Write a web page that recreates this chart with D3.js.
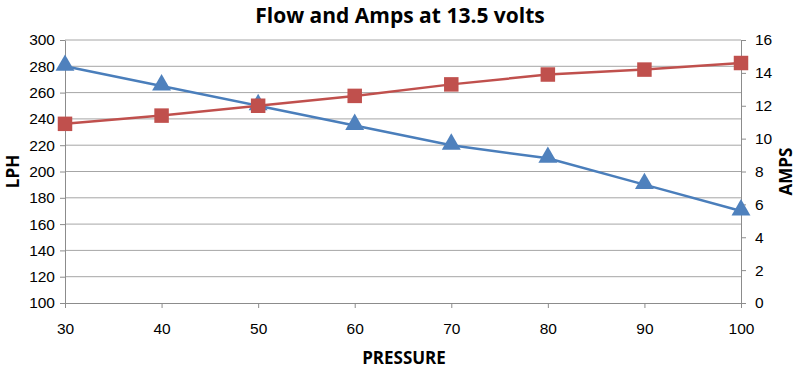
<!DOCTYPE html>
<html>
<head>
<meta charset="utf-8">
<script src="https://cdn.jsdelivr.net/npm/d3@7.9.0/dist/d3.min.js"></script>
<style>
  body { margin: 0; background: #fff; }
  svg { display: block; font-family: "Open Sans", "Liberation Sans", sans-serif; }
  .tick text { fill: #000; }
  .axis path, .axis line { stroke: #8c8c8c; }
</style>
</head>
<body>
<div id="chart"></div>
<script>
// data
const pressure = [30, 40, 50, 60, 70, 80, 90, 100];
const flowLph = [280, 265, 250, 235, 220, 210, 190, 170];
const amps = [10.9, 11.4, 12.0, 12.6, 13.3, 13.9, 14.2, 14.6];
const lphTicks = [100, 120, 140, 160, 180, 200, 220, 240, 260, 280, 300];
const ampTicks = [0, 2, 4, 6, 8, 10, 12, 14, 16];

const width = 800, height = 373;
const margin = { top: 40, right: 59, bottom: 70, left: 65 };

const svg = d3.select('#chart').append('svg')
  .attr('width', width)
  .attr('height', height);

const x = d3.scaleLinear().domain([30, 100]).range([margin.left, width - margin.right]);
const yL = d3.scaleLinear().domain([100, 300]).range([height - margin.bottom, margin.top]);
const yR = d3.scaleLinear().domain([0, 16]).range([height - margin.bottom, margin.top]);

// gridlines
svg.append('g')
  .selectAll('line')
  .data(lphTicks.slice(1))
  .join('line')
  .attr('x1', margin.left).attr('x2', width - margin.right)
  .attr('y1', d => yL(d)).attr('y2', d => yL(d))
  .attr('stroke', '#a6a6a6').attr('stroke-width', 1);

// axes
svg.append('g')
  .attr('class', 'axis')
  .attr('transform', `translate(0,${height - margin.bottom})`)
  .call(d3.axisBottom(x).tickValues(pressure).tickSize(5).tickPadding(15).tickSizeOuter(0));

svg.append('g')
  .attr('class', 'axis')
  .attr('transform', `translate(${margin.left},0)`)
  .call(d3.axisLeft(yL).tickValues(lphTicks).tickSize(5).tickPadding(5).tickSizeOuter(0));

svg.append('g')
  .attr('class', 'axis')
  .attr('transform', `translate(${width - margin.right},0)`)
  .call(d3.axisRight(yR).tickValues(ampTicks).tickSize(5).tickPadding(9).tickSizeOuter(0));

svg.selectAll('.tick text').attr('font-size', 15.5);

// lines
const flowPts = pressure.map((p, i) => [x(p), yL(flowLph[i])]);
const ampPts = pressure.map((p, i) => [x(p), yR(amps[i])]);
const line = d3.line();

svg.append('path')
  .attr('d', line(flowPts))
  .attr('fill', 'none').attr('stroke', '#4a7ebb').attr('stroke-width', 2.5);

const tri = d3.symbol().type(d3.symbolTriangle).size(155);
svg.append('g').selectAll('path')
  .data(flowPts)
  .join('path')
  .attr('d', tri)
  .attr('transform', d => `translate(${d[0]},${d[1] - 1})`)
  .attr('fill', '#4f81bd');

svg.append('path')
  .attr('d', line(ampPts))
  .attr('fill', 'none').attr('stroke', '#c0504d').attr('stroke-width', 2.5);

const sq = d3.symbol().type(d3.symbolSquare).size(210);
svg.append('g').selectAll('path')
  .data(ampPts)
  .join('path')
  .attr('d', sq)
  .attr('transform', d => `translate(${d[0]},${d[1]})`)
  .attr('fill', '#c0504d');

// titles
svg.append('text')
  .attr('x', width / 2).attr('y', 23)
  .attr('text-anchor', 'middle')
  .attr('font-size', 21).attr('font-weight', 'bold')
  .text('Flow and Amps at 13.5 volts');

svg.append('text')
  .attr('x', 404).attr('y', 364)
  .attr('text-anchor', 'middle')
  .attr('font-size', 17).attr('font-weight', 'bold')
  .text('PRESSURE');

svg.append('text')
  .attr('transform', `translate(19,${yL(200)}) rotate(-90)`)
  .attr('text-anchor', 'middle')
  .attr('font-size', 17).attr('font-weight', 'bold')
  .text('LPH');

svg.append('text')
  .attr('transform', `translate(792,${yR(8)}) rotate(-90)`)
  .attr('text-anchor', 'middle')
  .attr('font-size', 17).attr('font-weight', 'bold')
  .text('AMPS');
</script>
</body>
</html>
